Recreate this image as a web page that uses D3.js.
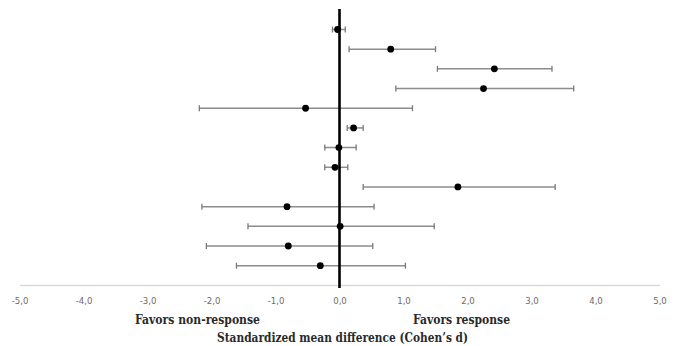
<!DOCTYPE html>
<html>
<head>
<meta charset="utf-8">
<script src="https://cdn.jsdelivr.net/npm/d3@7"></script>
<style>
  html, body { margin: 0; padding: 0; background: #fff; }
  svg { display: block; }
</style>
</head>
<body>
<svg id="chart" width="675" height="346"></svg>
<script>
// Data (top to bottom)
const studies = [1, 2, 3, 4, 5, 6, 7, 8, 9, 10, 11, 12, 13];
const effect  = [-0.03, 0.80, 2.42, 2.25, -0.53, 0.22, -0.01, -0.07, 1.85, -0.82, 0.01, -0.80, -0.30];
const lower   = [-0.11, 0.15, 1.53, 0.88, -2.19, 0.12, -0.23, -0.23, 0.37, -2.15, -1.43, -2.08, -1.61];
const upper   = [0.09, 1.50, 3.32, 3.66, 1.14, 0.37, 0.26, 0.13, 3.37, 0.54, 1.48, 0.52, 1.03];
const tickValues = [-5, -4, -3, -2, -1, 0, 1, 2, 3, 4, 5];
const tickLabels = ["-5,0", "-4,0", "-3,0", "-2,0", "-1,0", "0,0", "1,0", "2,0", "3,0", "4,0", "5,0"];
const leftLabel = "Favors non-response";
const rightLabel = "Favors response";
const axisTitle = "Standardized mean difference (Cohen\u2019s d)";

const rows = studies.map((s, i) => ({ s, d: effect[i], lo: lower[i], hi: upper[i] }));

const svg = d3.select("#chart");
const x = d3.scaleLinear().domain([-5, 5]).range([19.5, 659.5]);
const y = d3.scalePoint().domain(studies).range([29.5, 265.7]);
const axisY = 285;

// x axis
const xAxis = d3.axisBottom(x)
  .tickValues(tickValues)
  .tickSize(0)
  .tickPadding(12)
  .tickFormat((d, i) => tickLabels[i]);

const gx = svg.append("g").attr("transform", `translate(0,${axisY})`).call(xAxis);
gx.select(".domain").attr("stroke", "#d9d9d9").attr("stroke-width", 1.6);
gx.selectAll(".tick text")
  .attr("fill", "#6b6b6b")
  .attr("font-family", "'Liberation Sans Narrow', 'DejaVu Sans Condensed', sans-serif")
  .attr("font-size", 9.5);

// error bars
const capH = 3;
const g = svg.append("g");
g.selectAll("line.ci").data(rows).join("line")
  .attr("class", "ci")
  .attr("x1", d => x(d.lo)).attr("x2", d => x(d.hi))
  .attr("y1", d => y(d.s)).attr("y2", d => y(d.s))
  .attr("stroke", "#8c8c8c").attr("stroke-width", 1.5);
g.selectAll("line.capL").data(rows).join("line")
  .attr("class", "capL")
  .attr("x1", d => x(d.lo)).attr("x2", d => x(d.lo))
  .attr("y1", d => y(d.s) - capH).attr("y2", d => y(d.s) + capH)
  .attr("stroke", "#7a7a7a").attr("stroke-width", 1.3);
g.selectAll("line.capR").data(rows).join("line")
  .attr("class", "capR")
  .attr("x1", d => x(d.hi)).attr("x2", d => x(d.hi))
  .attr("y1", d => y(d.s) - capH).attr("y2", d => y(d.s) + capH)
  .attr("stroke", "#7a7a7a").attr("stroke-width", 1.3);

// zero line
svg.append("line")
  .attr("x1", x(0)).attr("x2", x(0))
  .attr("y1", 9).attr("y2", 288)
  .attr("stroke", "#000").attr("stroke-width", 2.6);

// points
g.selectAll("circle").data(rows).join("circle")
  .attr("cx", d => x(d.d)).attr("cy", d => y(d.s))
  .attr("r", 3.4).attr("fill", "#000");

// labels
const labelFont = "'DejaVu Serif Condensed', 'Liberation Serif', serif";
function label(txt, cx, cy, len) {
  svg.append("text").text(txt)
    .attr("x", cx).attr("y", cy)
    .attr("text-anchor", "middle")
    .attr("font-family", labelFont).attr("font-weight", "bold")
    .attr("font-size", 12).attr("fill", "#2a2a2a")
    .attr("textLength", len).attr("lengthAdjust", "spacingAndGlyphs");
}
label(leftLabel, 197.5, 324, 125);
label(rightLabel, 461.5, 324, 97);
label(axisTitle, 342.5, 342, 251);
</script>
</body>
</html>
